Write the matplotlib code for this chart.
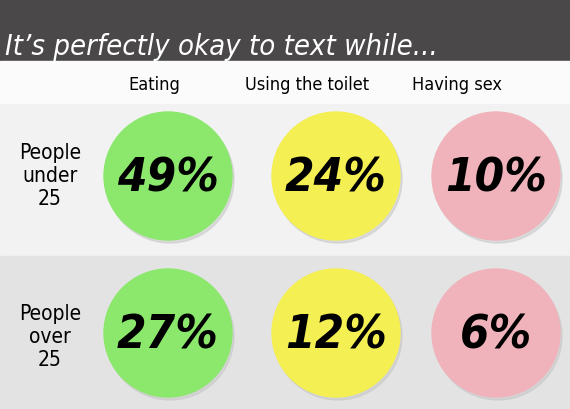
import matplotlib.pyplot as plt
from matplotlib.patches import Circle, Rectangle

# data
title = "It\u2019s perfectly okay to text while..."
activities = ["Eating", "Using the toilet", "Having sex"]
groups = ["People\nunder\n25", "People\nover\n25"]
under_25 = [49, 24, 10]
over_25 = [27, 12, 6]
values = [under_25, over_25]

colors = ["#8be86c", "#f4ef52", "#f1b3bb"]
narrow = ["Liberation Sans Narrow", "DejaVu Sans"]
cond = dict(family=narrow, stretch='condensed')

fig = plt.figure(figsize=(5.7, 4.1), dpi=100)
ax = fig.add_axes([0, 0, 1, 1])
ax.set_xlim(0, 570)
ax.set_ylim(410, 0)
ax.axis('off')

# backgrounds
ax.add_patch(Rectangle((0, 0), 570, 62, color="#4a4849", zorder=0))
ax.add_patch(Rectangle((0, 62), 570, 43, color="#fbfbfb", zorder=0))
ax.add_patch(Rectangle((0, 105), 570, 152, color="#f2f2f2", zorder=0))
ax.add_patch(Rectangle((0, 257), 570, 153, color="#e3e3e3", zorder=0))

ax.text(5, 55, title, color="white", fontsize=21, style='italic',
        ha='left', va='baseline', **cond)

col_x = [168, 336, 496]
head_x = [154, 307, 457]
row_y = [177, 334]
label_y = [176, 337]

for x, name in zip(head_x, activities):
    ax.text(x, 85, name, fontsize=13, ha='center', va='center', **cond)

for r, (grp, vals) in enumerate(zip(groups, values)):
    ax.text(50, label_y[r], grp, fontsize=15, ha='center',
            va='center', linespacing=1.2, **cond)
    for c, v in enumerate(vals):
        # soft shadow
        ax.add_patch(Circle((col_x[c] + 2, row_y[r] + 3), 64,
                            color="#c4c4c4", alpha=0.5, zorder=1))
        ax.add_patch(Circle((col_x[c], row_y[r]), 64, color=colors[c],
                            zorder=2))
        ax.text(col_x[c], row_y[r] + 2, f"{v}%", fontsize=34,
                fontweight='bold', style='italic',
                ha='center', va='center', zorder=3, **cond)

fig.savefig("out.png", dpi=100)
